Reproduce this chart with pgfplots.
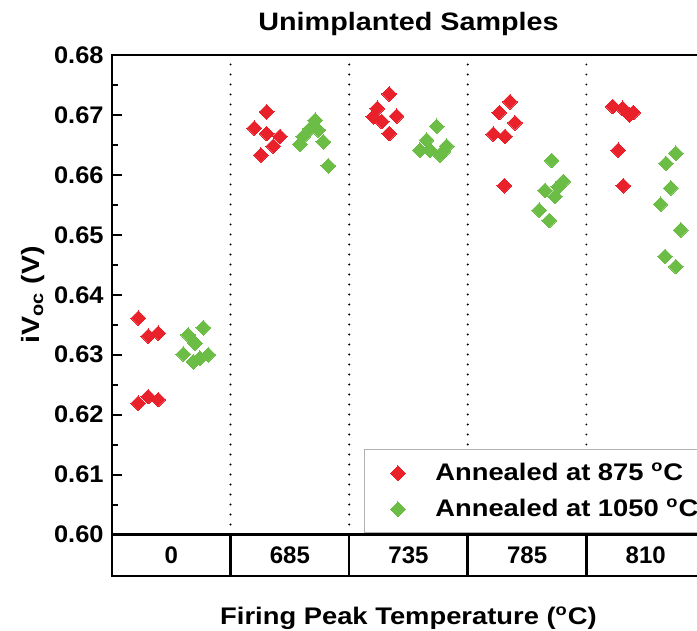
\documentclass[border=0pt]{standalone}
\usepackage{fontspec}
\setmainfont{Liberation Sans}[FakeStretch=1.14]
\newfontfamily\tickfont{Liberation Sans}[FakeStretch=1.06]
\newfontfamily\catfont{Liberation Sans}
\usepackage{pgfplots}
\pgfplotsset{compat=1.18}
\definecolor{rd}{HTML}{E8212B}
\definecolor{gn}{HTML}{6BBD45}
\pgfplotstableread{
x y
0.222 0.6361
0.306 0.6331
0.390 0.6336
0.222 0.6219
0.306 0.6230
0.390 0.6225
1.304 0.6705
1.200 0.6678
1.304 0.6669
1.417 0.6664
1.360 0.6648
1.256 0.6633
2.338 0.6735
2.237 0.6711
2.203 0.6697
2.274 0.6689
2.400 0.6698
2.338 0.6669
3.356 0.6722
3.266 0.6704
3.398 0.6687
3.215 0.6668
3.314 0.6664
3.308 0.6582
4.222 0.6714
4.306 0.6711
4.362 0.6700
4.395 0.6704
4.269 0.6641
4.311 0.6582
}\redtab
\pgfplotstableread{
x y
0.643 0.6333
0.770 0.6345
0.700 0.6319
0.601 0.6301
0.686 0.6288
0.742 0.6294
0.812 0.6300
1.712 0.6691
1.669 0.6677
1.739 0.6675
1.613 0.6664
1.585 0.6651
1.782 0.6655
1.824 0.6615
2.738 0.6681
2.653 0.6658
2.597 0.6641
2.681 0.6641
2.793 0.6639
2.822 0.6648
2.766 0.6633
3.707 0.6624
3.805 0.6589
3.763 0.6580
3.651 0.6574
3.735 0.6564
3.603 0.6541
3.687 0.6524
4.755 0.6636
4.671 0.6619
4.711 0.6578
4.626 0.6551
4.795 0.6508
4.663 0.6464
4.755 0.6447
}\greentab
\begin{document}
\fontsize{12}{14}\selectfont
\begin{tikzpicture}
\useasboundingbox (-56pt,-48.25pt) rectangle (292.5pt,267.25pt);
\begin{axis}[at={(0,0)}, anchor=south west, scale only axis,
  width=296.5pt, height=239.75pt,
  xmin=0, xmax=5, ymin=0.60, ymax=0.68,
  clip=false,
  axis line style={line width=1.3pt},
  xtick={0.5,1.5,2.5,3.5,4.5}, xticklabels={0,685,735,785,810},
  x tick label style={anchor=center, yshift=-10.25pt, font=\fontsize{12}{14}\selectfont\catfont\bfseries},
  major x tick style={draw=none}, xtick pos=bottom,
  ytick={0.60,0.61,0.62,0.63,0.64,0.65,0.66,0.67,0.68},
  minor y tick num=1, ytick pos=left, tick align=inside,
  major tick length=5pt, minor tick length=3pt,
  tick style={line width=1pt, black},
  y tick label style={/pgf/number format/.cd, fixed, fixed zerofill, precision=2, assume math mode=true, /tikz/.cd, font=\fontsize{12}{14}\selectfont\tickfont\bfseries},
  title={Unimplanted Samples},
  every axis title shift=0pt,
  title style={font=\fontsize{12.6}{15}\selectfont\bfseries, anchor=base, yshift=12.15pt},
  xlabel={Firing Peak Temperature (\textsuperscript{o}C)},
  xlabel style={at={(axis description cs:0.5,0)}, anchor=base, yshift=-45pt, font=\fontsize{12}{14}\selectfont\bfseries},
  ylabel={iV\textsubscript{oc} (V)},
  ylabel style={at={(axis description cs:-0.1332,0.5)}, anchor=center, font=\fontsize{12.5}{14}\selectfont\bfseries},
  legend style={at={(0.425,0.178)}, anchor=north west, draw=gray!60, line width=0.6pt,
    font=\fontsize{12}{14}\selectfont\bfseries, row sep=3.5pt, column sep=13pt,
    inner xsep=13pt, inner ysep=4.5pt},
  legend cell align=left,
]
\addplot[only marks, color=rd, mark=square*, mark size=2.6pt, mark options={rotate=45, fill=rd, draw=rd, line width=0pt}] table[x=x,y=y] {\redtab};
\addlegendentry{Annealed at 875 \textsuperscript{o}C}
\addplot[only marks, color=gn, mark=square*, mark size=2.6pt, mark options={rotate=45, fill=gn, draw=gn, line width=0pt}] table[x=x,y=y] {\greentab};
\addlegendentry{Annealed at 1050 \textsuperscript{o}C}
\pgfplotsinvokeforeach{1,2,3,4}{
  \draw[line width=1.1pt, dash pattern=on 0pt off 5pt, line cap=round] (axis cs:#1,0.6) -- (axis cs:#1,0.6785);
  \draw[line width=1.3pt] (axis cs:#1,0.6) -- ([yshift=-20.75pt]axis cs:#1,0.6);
}
\draw[line width=1.3pt] (axis cs:0,0.6) -- ([yshift=-20.75pt]axis cs:0,0.6) -- ([yshift=-20.75pt]axis cs:5,0.6) -- (axis cs:5,0.6);
\end{axis}
\end{tikzpicture}
\end{document}
